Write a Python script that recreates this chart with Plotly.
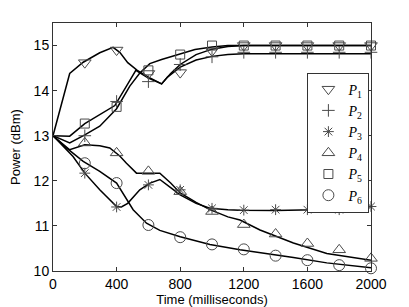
import plotly.graph_objects as go

# Marker sample times and values
t_marks = [200, 400, 600, 800, 1000, 1200, 1400, 1600, 1800, 2000]
P1_m = [14.62, 14.9, 14.38, 14.4, 14.88, 15.0, 15.0, 15.0, 15.0, 15.0]
P2_m = [13.0, 13.76, 14.2, 14.58, 14.75, 14.85, 14.85, 14.85, 14.85, 14.85]
P3_m = [12.17, 11.42, 11.91, 11.8, 11.39, 11.35, 11.36, 11.36, 11.36, 11.43]
P4_m = [12.84, 12.62, 12.21, 11.76, 11.32, 11.03, 10.82, 10.61, 10.47, 10.28]
P5_m = [13.27, 13.64, 14.45, 14.8, 15.0, 15.0, 15.0, 15.0, 15.0, 15.0]
P6_m = [12.39, 11.95, 11.02, 10.75, 10.59, 10.48, 10.34, 10.24, 10.13, 10.06]

# Continuous curves
P1_t = [0, 105, 190, 294, 378, 420, 470, 530, 600, 683, 740, 800, 900, 1000, 1100, 1200, 2000]
P1_v = [13, 14.38, 14.63, 14.84, 14.96, 14.85, 14.62, 14.45, 14.3, 14.15, 14.38, 14.58, 14.8, 14.92, 14.98, 15.0, 15.0]
P2_t = [0, 105, 200, 294, 389, 462, 521, 600, 683, 720, 800, 900, 1000, 1100, 1200, 2000]
P2_v = [13, 12.99, 13.27, 13.47, 13.67, 14.1, 14.45, 14.28, 14.15, 14.3, 14.52, 14.68, 14.76, 14.8, 14.82, 14.82]
P5_t = [0, 105, 200, 294, 400, 483, 546, 609, 683, 785, 893, 1000, 1100, 2000]
P5_v = [13, 12.84, 13.02, 13.21, 13.6, 14.1, 14.39, 14.6, 14.69, 14.8, 14.91, 14.97, 15.0, 15.0]
P3_t = [0, 63, 126, 200, 294, 400, 430, 470, 546, 610, 672, 740, 800, 900, 987, 1100, 1176, 1400, 1600, 1800, 1900, 2000]
P3_v = [13, 12.76, 12.54, 12.17, 11.8, 11.43, 11.42, 11.5, 11.8, 11.95, 12.03, 11.85, 11.69, 11.5, 11.39, 11.36, 11.35, 11.34, 11.35, 11.37, 11.4, 11.43]
P4_t = [0, 105, 200, 294, 357, 420, 462, 525, 672, 740, 800, 900, 987, 1100, 1176, 1302, 1512, 1722, 2000]
P4_v = [13, 12.69, 12.8, 12.78, 12.73, 12.55, 12.39, 12.17, 12.17, 11.95, 11.73, 11.52, 11.36, 11.2, 11.13, 10.91, 10.62, 10.39, 10.24]
P6_t = [0, 84, 190, 294, 400, 430, 504, 588, 672, 800, 987, 1176, 1302, 1512, 1722, 2000]
P6_v = [13, 12.73, 12.43, 12.21, 11.95, 11.78, 11.36, 11.06, 10.9, 10.76, 10.59, 10.47, 10.41, 10.3, 10.18, 10.07]

x_ticks = [0, 400, 800, 1200, 1600, 2000]
y_ticks = [10, 11, 12, 13, 14, 15]

series = [
    ("<i>P</i><sub>1</sub>", P1_t, P1_v, P1_m, "triangle-down-open", 11),
    ("<i>P</i><sub>2</sub>", P2_t, P2_v, P2_m, "cross-thin-open", 9),
    ("<i>P</i><sub>3</sub>", P3_t, P3_v, P3_m, "asterisk-open", 9),
    ("<i>P</i><sub>4</sub>", P4_t, P4_v, P4_m, "triangle-up-open", 11),
    ("<i>P</i><sub>5</sub>", P5_t, P5_v, P5_m, "square-open", 9),
    ("<i>P</i><sub>6</sub>", P6_t, P6_v, P6_m, "circle-open", 11),
]

mcol = "#4a4a4a"
fig = go.Figure()
for name, lt, lv, mv, sym, sz in series:
    fig.add_trace(go.Scatter(x=lt, y=lv, mode="lines", showlegend=False,
                             line=dict(color="black", width=1.5), hoverinfo="skip"))
for name, lt, lv, mv, sym, sz in series:
    fig.add_trace(go.Scatter(x=t_marks, y=mv, mode="markers", name=name, cliponaxis=False,
                             marker=dict(symbol=sym, size=sz, color=mcol,
                                         line=dict(color=mcol, width=1))))

axis_common = dict(showline=True, linecolor="#333", linewidth=1, mirror="ticks",
                   ticks="inside", ticklen=4, tickcolor="#333", showgrid=False, zeroline=False,
                   automargin=False,
                   tickfont=dict(family="Liberation Sans", size=14, color="black"))
# page body has an 8px default margin, so the figure is sized to fit the window
fig.update_layout(
    width=401, height=299,
    margin=dict(l=45, r=38, t=15, b=36),
    paper_bgcolor="white", plot_bgcolor="white",
    xaxis=dict(range=[0, 2000], tickvals=x_ticks, ticktext=[str(v) for v in x_ticks],
               title=dict(text="Time (milliseconds)", standoff=0,
                          font=dict(family="Liberation Sans", size=13, color="black")),
               **axis_common),
    yaxis=dict(range=[10, 15.5], tickvals=y_ticks, ticktext=[str(v) for v in y_ticks],
               title=dict(text="Power (dBm)", standoff=10,
                          font=dict(family="Liberation Sans", size=13, color="black")),
               **axis_common),
    legend=dict(x=0.80, y=0.80, xanchor="left", yanchor="top",
                bordercolor="#333", borderwidth=1, bgcolor="white",
                font=dict(family="Liberation Serif", size=14, color="black"),
                itemwidth=30, tracegroupgap=0),
    showlegend=True,
)
fig.write_html("out.html")
